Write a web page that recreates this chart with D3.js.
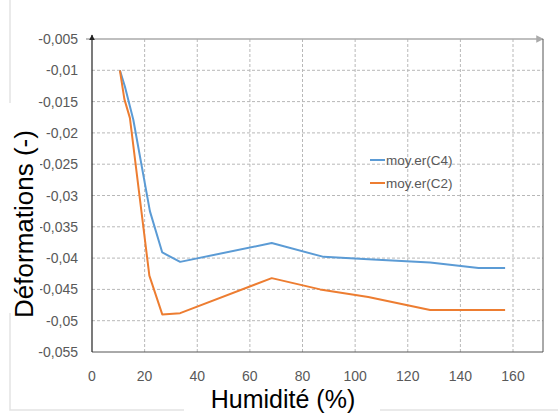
<!DOCTYPE html>
<html>
<head>
<meta charset="utf-8">
<script src="https://cdn.jsdelivr.net/npm/d3@7"></script>
<style>
  body { margin: 0; background: #fff; }
  svg { display: block; font-family: "Liberation Sans", Arial, sans-serif; }
</style>
</head>
<body>
<div id="chart"></div>
<script>
// humidity (%) and mean strain for the two specimens
var humC4 = [10.6, 12.5, 15.7, 22, 26.7, 33.5, 68.3, 88, 105, 128.5, 146.9, 157]
var defC4 = [-0.0100, -0.0126, -0.0179, -0.0325, -0.0391, -0.0406, -0.0376, -0.0398, -0.0402, -0.0407, -0.0416, -0.0416]
var humC2 = [10.6, 12.3, 14.4, 21.8, 26.7, 33.5, 68.3, 86.7, 105, 128.5, 157]
var defC2 = [-0.0100, -0.0146, -0.0176, -0.0428, -0.0490, -0.0488, -0.0432, -0.0450, -0.0462, -0.0483, -0.0483]
var seriesNames = ["moy.er(C4)", "moy.er(C2)"]
var xTicks = [0, 20, 40, 60, 80, 100, 120, 140, 160]
var yTicks = [-0.005, -0.01, -0.015, -0.02, -0.025, -0.03, -0.035, -0.04, -0.045, -0.05, -0.055]

var W = 558, H = 414
var colors = ["#5B9BD5", "#ED7D31"]
var pLeft = 92, pTop = 39, pBottom = 352, pRight = 543

var x = d3.scaleLinear().domain([0, 160]).range([pLeft, 513])
var y = d3.scaleLinear().domain([-0.055, -0.005]).range([pBottom, pTop])

var svg = d3.select("#chart").append("svg")
  .attr("width", W).attr("height", H)

// outer light frame (partly hidden behind the titles)
svg.append("path")
  .attr("d", "M10,0 V410 H" + W)
  .attr("fill", "none").attr("stroke", "#e3e3e3").attr("stroke-width", 1.5)

var defs = svg.append("defs")
defs.append("marker").attr("id", "arrBlack")
  .attr("viewBox", "0 0 10 10").attr("refX", 9).attr("refY", 5)
  .attr("markerWidth", 5).attr("markerHeight", 5).attr("orient", "auto")
  .append("path").attr("d", "M0,0 L10,5 L0,10 z").attr("fill", "#222")
defs.append("marker").attr("id", "arrGray")
  .attr("viewBox", "0 0 10 10").attr("refX", 9).attr("refY", 5)
  .attr("markerWidth", 5).attr("markerHeight", 5).attr("orient", "auto")
  .append("path").attr("d", "M0,0 L10,5 L0,10 z").attr("fill", "#aaa")

// gridlines
svg.append("g").selectAll("line")
  .data(yTicks.filter(function(d){ return d > -0.055 && d < -0.005 }))
  .enter().append("line")
  .attr("x1", pLeft).attr("x2", pRight)
  .attr("y1", function(d){ return y(d) }).attr("y2", function(d){ return y(d) })
  .attr("stroke", "#b8b8b8").attr("stroke-dasharray", "3,2").attr("stroke-width", 1)

svg.append("g").selectAll("line")
  .data(xTicks.filter(function(d){ return d > 0 }))
  .enter().append("line")
  .attr("y1", pTop).attr("y2", pBottom)
  .attr("x1", function(d){ return x(d) }).attr("x2", function(d){ return x(d) })
  .attr("stroke", "#b8b8b8").attr("stroke-dasharray", "3,2").attr("stroke-width", 1)

// frame: top gray with arrow, right and bottom dark
svg.append("line").attr("x1", 86).attr("x2", pRight).attr("y1", pTop).attr("y2", pTop)
  .attr("stroke", "#aaa").attr("stroke-width", 1.5).attr("marker-end", "url(#arrGray)")
svg.append("line").attr("x1", pRight).attr("x2", pRight).attr("y1", pTop).attr("y2", pBottom)
  .attr("stroke", "#555").attr("stroke-width", 1)
svg.append("line").attr("x1", pLeft).attr("x2", pRight).attr("y1", pBottom).attr("y2", pBottom)
  .attr("stroke", "#555").attr("stroke-width", 1)
svg.append("line").attr("x1", pLeft).attr("x2", pLeft).attr("y1", pBottom).attr("y2", pTop - 4)
  .attr("stroke", "#222").attr("stroke-width", 1.2).attr("marker-end", "url(#arrBlack)")

// tick labels
var fmt = function(d){ return String(+d.toFixed(3)).replace(".", ",") }
svg.append("g").selectAll("text")
  .data(yTicks).enter().append("text")
  .attr("x", 78).attr("y", function(d){ return y(d) })
  .attr("dy", "0.36em").attr("text-anchor", "end")
  .attr("font-size", 14).attr("fill", "#595959")
  .text(fmt)

svg.append("g").selectAll("text")
  .data(xTicks).enter().append("text")
  .attr("x", function(d){ return x(d) }).attr("y", 376)
  .attr("dy", "0.36em").attr("text-anchor", "middle")
  .attr("font-size", 14).attr("fill", "#595959")
  .text(function(d){ return d })

// lines
var line = d3.line()
  .x(function(d){ return x(d[0]) })
  .y(function(d){ return y(d[1]) })

var data = [d3.zip(humC4, defC4), d3.zip(humC2, defC2)]
svg.append("g").selectAll("path")
  .data(data).enter().append("path")
  .attr("d", line)
  .attr("fill", "none")
  .attr("stroke", function(d, i){ return colors[i] })
  .attr("stroke-width", 2)
  .attr("stroke-linejoin", "round")

// legend
var legend = svg.append("g").selectAll("g")
  .data(seriesNames).enter().append("g")
  .attr("transform", function(d, i){ return "translate(370," + (160 + i * 23) + ")" })
legend.append("line").attr("x1", 0).attr("x2", 15)
  .attr("stroke", function(d, i){ return colors[i] }).attr("stroke-width", 2)
legend.append("text").attr("x", 16).attr("dy", "0.36em")
  .attr("font-size", 13.5).attr("fill", "#595959")
  .text(function(d){ return d })

// axis titles with white backing over the outer frame
svg.append("rect").attr("x", 0).attr("y", 103).attr("width", 40).attr("height", 210).attr("fill", "#fff")
svg.append("text")
  .attr("transform", "translate(33,224) rotate(-90)")
  .attr("text-anchor", "middle").attr("font-size", 26).attr("fill", "#000")
  .text("Déformations (-)")

svg.append("rect").attr("x", 184).attr("y", 386).attr("width", 196).attr("height", 28).attr("fill", "#fff")
svg.append("text")
  .attr("x", 283).attr("y", 408)
  .attr("text-anchor", "middle").attr("font-size", 25).attr("fill", "#000")
  .text("Humidité (%)")
</script>
</body>
</html>
